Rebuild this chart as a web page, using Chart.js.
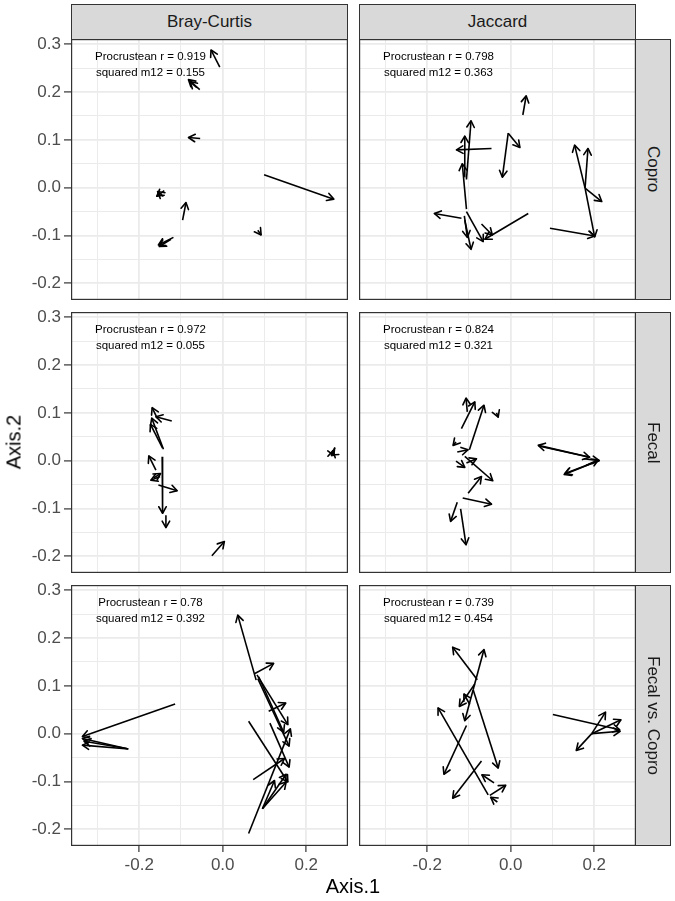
<!DOCTYPE html>
<html>
<head>
<meta charset="utf-8">
<script src="https://cdn.jsdelivr.net/npm/chart.js@4.4.1/dist/chart.umd.min.js"></script>
<style>
  body { margin: 0 ; background: #ffffff ; }
  #fig { position: relative ; width: 675px ; height: 901px ; overflow: hidden ;
         font-family: "Liberation Sans", Arial, sans-serif ; }
  #fig canvas { position: absolute ; }
  .strip { position: absolute ; box-sizing: border-box ; background: #d9d9d9 ;
           border: 1.2px solid #333333 ; color: #1a1a1a ; font-size: 17px ;
           display: flex ; align-items: center ; justify-content: center ; }
  .strip.side span { writing-mode: vertical-rl ; }
  .title { position: absolute ; color: #000000 ; font-size: 20px ; white-space: nowrap ; }
</style>
</head>
<body>
<div id="fig"></div>
<script>

// ---------------- Data ----------------------------------------------------
const colLabels   = [ 'Bray-Curtis', 'Jaccard' ] ;
const rowLabels   = [ 'Copro', 'Fecal', 'Fecal vs. Copro' ] ;
const procrusteanR = [ '0.919', '0.798', '0.972', '0.824', '0.78', '0.739' ] ;
const squaredM12   = [ '0.155', '0.363', '0.055', '0.321', '0.392', '0.454' ] ;

const xTickValues = [ -0.2, 0, 0.2 ] ;
const xTickLabels = [ '-0.2', '0.0', '0.2' ] ;
const xMinorGrid  = [ -0.3, -0.1, 0.1 ] ;
const yTickValues = [ -0.2, -0.1, 0, 0.1, 0.2, 0.3 ] ;
const yTickLabels = [ '-0.2', '-0.1', '0.0', '0.1', '0.2', '0.3' ] ;
const yMinorGrid  = [ -0.15, -0.05, 0.05, 0.15, 0.25 ] ;

// each arrow: [ x from, y from, x to, y to ]
const bcCoproArrows = [
  [ -0.007,  0.252, -0.028,  0.288 ],
  [ -0.055,  0.205, -0.082,  0.226 ],
  [ -0.062,  0.209, -0.078,  0.222 ],
  [ -0.054,  0.103, -0.082,  0.105 ],
  [  0.099,  0.027,  0.266, -0.024 ],
  [ -0.140, -0.006, -0.158, -0.018 ],
  [ -0.142, -0.018, -0.156, -0.008 ],
  [ -0.096, -0.068, -0.088, -0.031 ],
  [  0.084, -0.089,  0.092, -0.099 ],
  [ -0.118, -0.104, -0.154, -0.120 ],
  [ -0.124, -0.108, -0.152, -0.123 ]
] ;
const jCoproArrows = [
  [  0.029,  0.152,  0.037,  0.192 ],
  [ -0.106,  0.017, -0.095,  0.140 ],
  [ -0.111,  0.023, -0.110,  0.108 ],
  [ -0.106, -0.045, -0.116,  0.050 ],
  [ -0.046,  0.082, -0.130,  0.079 ],
  [ -0.006,  0.114, -0.020,  0.022 ],
  [ -0.006,  0.114,  0.022,  0.084 ],
  [ -0.118, -0.064, -0.183, -0.054 ],
  [ -0.111, -0.059, -0.104, -0.104 ],
  [ -0.110, -0.068, -0.095, -0.129 ],
  [ -0.106, -0.050, -0.066, -0.113 ],
  [  0.042, -0.054, -0.062, -0.108 ],
  [ -0.070, -0.076, -0.044, -0.099 ],
  [  0.178, -0.001,  0.153,  0.089 ],
  [  0.178, -0.001,  0.185,  0.082 ],
  [  0.178, -0.001,  0.218, -0.029 ],
  [  0.178, -0.001,  0.201, -0.103 ],
  [  0.094, -0.085,  0.201, -0.101 ]
] ;
const bcFecalArrows = [
  [ -0.122,  0.083, -0.160,  0.092 ],
  [ -0.157,  0.089, -0.169,  0.111 ],
  [ -0.142,  0.024, -0.170,  0.089 ],
  [ -0.144,  0.026, -0.173,  0.076 ],
  [ -0.145,  0.008, -0.144, -0.110 ],
  [ -0.160, -0.020, -0.177,  0.010 ],
  [ -0.165, -0.036, -0.149, -0.027 ],
  [ -0.150, -0.033, -0.172, -0.041 ],
  [ -0.154, -0.051, -0.109, -0.063 ],
  [ -0.136, -0.114, -0.136, -0.140 ],
  [ -0.026, -0.199,  0.004, -0.169 ],
  [  0.261,  0.009,  0.264,  0.021 ],
  [  0.267,  0.016,  0.260,  0.012 ],
  [  0.262,  0.019,  0.266,  0.011 ]
] ;
const jFecalArrows = [
  [ -0.104,  0.102, -0.107,  0.131 ],
  [ -0.118,  0.067, -0.086,  0.123 ],
  [ -0.099,  0.023, -0.064,  0.116 ],
  [ -0.034,  0.100, -0.030,  0.091 ],
  [ -0.131,  0.039, -0.138,  0.032 ],
  [ -0.128,  0.018, -0.102,  0.023 ],
  [ -0.131, -0.001, -0.110, -0.014 ],
  [ -0.110,  0.009, -0.043, -0.042 ],
  [ -0.106, -0.005, -0.082,  0.004 ],
  [ -0.102, -0.068, -0.070, -0.033 ],
  [ -0.115, -0.078, -0.046, -0.091 ],
  [ -0.128, -0.087, -0.144, -0.127 ],
  [ -0.120, -0.101, -0.107, -0.176 ],
  [  0.190,  0.007,  0.066,  0.032 ],
  [  0.070,  0.030,  0.189,  0.007 ],
  [  0.210,  0.000,  0.128, -0.029 ],
  [  0.196, -0.005,  0.130, -0.027 ],
  [  0.175,  0.004,  0.212,  0.000 ],
  [  0.180, -0.010,  0.210,  0.002 ]
] ;
const bcFvcArrows = [
  [ -0.114,  0.062, -0.336, -0.006 ],
  [ -0.226, -0.032, -0.336, -0.010 ],
  [ -0.226, -0.032, -0.336, -0.024 ],
  [ -0.230, -0.031, -0.332, -0.016 ],
  [  0.080,  0.112,  0.036,  0.248 ],
  [  0.077,  0.126,  0.122,  0.147 ],
  [  0.082,  0.123,  0.156,  0.019 ],
  [  0.086,  0.119,  0.146,  0.003 ],
  [  0.084,  0.115,  0.159, -0.026 ],
  [  0.110,  0.047,  0.151,  0.064 ],
  [  0.062,  0.026,  0.156, -0.101 ],
  [  0.113,  0.022,  0.159, -0.070 ],
  [  0.073, -0.096,  0.148, -0.052 ],
  [  0.062, -0.209,  0.162,  0.010 ],
  [  0.095, -0.157,  0.124, -0.098 ],
  [  0.095, -0.157,  0.152, -0.085 ],
  [  0.095, -0.157,  0.152, -0.101 ]
] ;
const jFvcArrows = [
  [ -0.080,  0.113, -0.139,  0.181 ],
  [ -0.090,  0.092, -0.064,  0.176 ],
  [ -0.086,  0.104, -0.123,  0.057 ],
  [ -0.098,  0.061, -0.112,  0.083 ],
  [ -0.090,  0.092, -0.110,  0.027 ],
  [ -0.090,  0.092, -0.030, -0.072 ],
  [ -0.106,  0.017, -0.160, -0.085 ],
  [ -0.054, -0.128, -0.174,  0.054 ],
  [ -0.070, -0.057, -0.139, -0.135 ],
  [ -0.040, -0.103, -0.069, -0.086 ],
  [ -0.050, -0.129, -0.012, -0.108 ],
  [ -0.032, -0.143, -0.048, -0.133 ],
  [  0.101,  0.040,  0.261,  0.008 ],
  [  0.194,  0.000,  0.227,  0.045 ],
  [  0.194,  0.000,  0.264,  0.029 ],
  [  0.194,  0.000,  0.262,  0.005 ],
  [  0.194,  0.000,  0.157, -0.035 ]
] ;

const panelArrows = [ bcCoproArrows, jCoproArrows, bcFecalArrows,
                      jFecalArrows,  bcFvcArrows,  jFvcArrows ] ;

// ---------------- Layout / style -----------------------------------------
const FONT        = '"Liberation Sans", Arial, sans-serif' ;
const GRID_COLOR  = '#ebebeb' ;
const TICK_COLOR  = '#4d4d4d' ;
const LINE_COLOR  = '#333333' ;
const ARROW_WIDTH = 1.6 ;
const X_MIN = -0.3633, X_MAX = 0.300 ;
const Y_MIN = -0.235,  Y_MAX = 0.311 ;
const ANNOT_X = -0.173, ANNOT_Y = 0.258 ;
const COL_LEFT = [ 71, 359 ] ;
const ROW_TOP  = [ 39, 312, 585 ] ;
const PANEL_W  = 277 ;
const PANEL_H  = 261 ;
const Y_AXIS_W = 71 ;
const X_AXIS_H = 30 ;
const TOP_PAD  = 10 ;     // room above the panel so the 0.3 label is not cut
const HEAD_LEN = 7.5 ;
const HEAD_ANGLE = Math.PI / 6 ;

const fig = document.getElementById( 'fig' ) ;

function near( a, b ) { return Math.abs( a - b ) < 1e-6 ; }

function isMajor( v, majors ) {
  return majors.some( m => near( m, v ) ) ;
}

function tickLabel( v, majors, labels ) {
  for( var i=0; i<majors.length; i++ ) {
    if( near( majors[i], v ) ) { return labels[i] ; }
  }
  return '' ;
}

function gridWidth( ctx, majors ) {
  if( !ctx.tick ) { return 1 ; }
  return isMajor( ctx.tick.value, majors ) ? 1.8 : 1.0 ;
}

function tickMarkColor( ctx, majors ) {
  if( !ctx.tick ) { return 'rgba(0,0,0,0)' ; }
  return isMajor( ctx.tick.value, majors ) ? LINE_COLOR : 'rgba(0,0,0,0)' ;
}

function drawHead( ctx, x0, y0, x1, y1 ) {
  const ang = Math.atan2( y1 - y0, x1 - x0 ) ;
  ctx.beginPath() ;
  ctx.moveTo( x1 - HEAD_LEN * Math.cos( ang - HEAD_ANGLE ),
              y1 - HEAD_LEN * Math.sin( ang - HEAD_ANGLE ) ) ;
  ctx.lineTo( x1, y1 ) ;
  ctx.lineTo( x1 - HEAD_LEN * Math.cos( ang + HEAD_ANGLE ),
              y1 - HEAD_LEN * Math.sin( ang + HEAD_ANGLE ) ) ;
  ctx.stroke() ;
}

function makePanelPlugin( idx ) {
  return {
    id : 'panelDecor' + idx,
    afterDatasetsDraw : function( chart ) {
      const ctx = chart.ctx ;
      ctx.save() ;
      ctx.strokeStyle = '#000000' ;
      ctx.lineWidth = ARROW_WIDTH ;
      ctx.lineCap = 'round' ;
      ctx.lineJoin = 'round' ;
      chart.data.datasets.forEach( function( ds, i ) {
        const pts = chart.getDatasetMeta( i ).data ;
        drawHead( ctx, pts[0].x, pts[0].y, pts[1].x, pts[1].y ) ;
      } ) ;
      ctx.restore() ;
    },
    afterDraw : function( chart ) {
      const ctx  = chart.ctx ;
      const area = chart.chartArea ;
      const cx = chart.scales.x.getPixelForValue( ANNOT_X ) ;
      const cy = chart.scales.y.getPixelForValue( ANNOT_Y ) ;
      ctx.save() ;
      ctx.fillStyle = '#000000' ;
      ctx.font = '11.5px ' + FONT ;
      ctx.textAlign = 'center' ;
      ctx.textBaseline = 'middle' ;
      ctx.fillText( 'Procrustean r = ' + procrusteanR[idx], cx, cy - 8 ) ;
      ctx.fillText( 'squared m12 = ' + squaredM12[idx], cx, cy + 8 ) ;
      ctx.strokeStyle = LINE_COLOR ;
      ctx.lineWidth = 1.2 ;
      ctx.strokeRect( area.left + 0.6, area.top + 0.6,
                      area.right - area.left - 1.2, area.bottom - area.top - 1.2 ) ;
      ctx.restore() ;
    }
  } ;
}

function buildPanel( row, col ) {

  const idx   = row * 2 + col ;
  const showY = ( col == 0 ) ;
  const showX = ( row == 2 ) ;

  const canvas = document.createElement( 'canvas' ) ;
  const left   = showY ? COL_LEFT[col] - Y_AXIS_W : COL_LEFT[col] ;
  canvas.width  = PANEL_W + ( showY ? Y_AXIS_W : 0 ) ;
  canvas.height = TOP_PAD + PANEL_H + ( showX ? X_AXIS_H : 0 ) ;
  canvas.style.left = left + 'px' ;
  canvas.style.top  = ( ROW_TOP[row] - TOP_PAD ) + 'px' ;
  fig.appendChild( canvas ) ;

  const datasets = panelArrows[idx].map( function( a ) {
    return {
      data        : [ { x : a[0], y : a[1] }, { x : a[2], y : a[3] } ],
      showLine    : true,
      borderColor : '#000000',
      borderWidth : ARROW_WIDTH,
      pointRadius : 0,
      pointHoverRadius : 0
    } ;
  } ) ;

  const xGrid = xTickValues.concat( xMinorGrid ).sort( ( a, b ) => a - b ) ;
  const yGrid = yTickValues.concat( yMinorGrid ).sort( ( a, b ) => a - b ) ;

  return new Chart( canvas, {
    type : 'scatter',
    data : { datasets : datasets },
    options : {
      responsive : false,
      animation  : false,
      devicePixelRatio : 1,
      layout : { padding : { top : TOP_PAD, left : 0, right : 0, bottom : 0 } },
      plugins : {
        legend  : { display : false },
        tooltip : { enabled : false }
      },
      events : [],
      scales : {
        x : {
          type : 'linear',
          min  : X_MIN,
          max  : X_MAX,
          afterBuildTicks : s => { s.ticks = xGrid.map( v => ( { value : v } ) ) ; },
          afterFit : s => {
            s.height = showX ? X_AXIS_H : 0 ;
            s.paddingLeft = 0 ; s.paddingRight = 0 ;
          },
          border : { display : false },
          grid : {
            color      : GRID_COLOR,
            lineWidth  : ctx => gridWidth( ctx, xTickValues ),
            drawTicks  : showX,
            tickLength : 6,
            tickWidth  : 1.2,
            tickColor  : ctx => tickMarkColor( ctx, xTickValues )
          },
          ticks : {
            display     : showX,
            autoSkip    : false,
            maxRotation : 0,
            padding     : 3,
            color       : TICK_COLOR,
            font        : { size : 17, family : FONT },
            callback    : v => tickLabel( v, xTickValues, xTickLabels )
          }
        },
        y : {
          type : 'linear',
          min  : Y_MIN,
          max  : Y_MAX,
          afterBuildTicks : s => { s.ticks = yGrid.map( v => ( { value : v } ) ) ; },
          afterFit : s => {
            s.width = showY ? Y_AXIS_W : 0 ;
            s.paddingTop = 0 ; s.paddingBottom = 0 ;
          },
          border : { display : false },
          grid : {
            color      : GRID_COLOR,
            lineWidth  : ctx => gridWidth( ctx, yTickValues ),
            drawTicks  : showY,
            tickLength : 7,
            tickWidth  : 1.2,
            tickColor  : ctx => tickMarkColor( ctx, yTickValues )
          },
          ticks : {
            display  : showY,
            autoSkip : false,
            padding  : 3,
            color    : TICK_COLOR,
            font     : { size : 17, family : FONT },
            callback : v => tickLabel( v, yTickValues, yTickLabels )
          }
        }
      }
    },
    plugins : [ makePanelPlugin( idx ) ]
  } ) ;
}

function addDiv( cls, text, css ) {
  const d = document.createElement( 'div' ) ;
  d.className = cls ;
  d.innerHTML = '<span></span>' ;
  d.firstChild.textContent = text ;
  Object.assign( d.style, css ) ;
  fig.appendChild( d ) ;
  return d ;
}

// ---------------- Build figure -------------------------------------------
for( var r=0; r<3; r++ ) {
  for( var c=0; c<2; c++ ) {
    buildPanel( r, c ) ;
  }
}

colLabels.forEach( function( lbl, c ) {
  addDiv( 'strip', lbl, { left : COL_LEFT[c] + 'px', top : '4px',
                          width : PANEL_W + 'px', height : '35.5px' } ) ;
} ) ;

rowLabels.forEach( function( lbl, r ) {
  addDiv( 'strip side', lbl, { left : '635px', top : ROW_TOP[r] + 'px',
                               width : '36px', height : PANEL_H + 'px' } ) ;
} ) ;

const t1 = addDiv( 'title', 'Axis.1', {} ) ;
t1.style.left = '353px' ;
t1.style.top  = '886px' ;
t1.style.transform = 'translate(-50%, -50%)' ;

const t2 = addDiv( 'title', 'Axis.2', {} ) ;
t2.style.left = '14px' ;
t2.style.top  = '442px' ;
t2.style.transform = 'translate(-50%, -50%) rotate(-90deg)' ;

</script>
</body>
</html>
